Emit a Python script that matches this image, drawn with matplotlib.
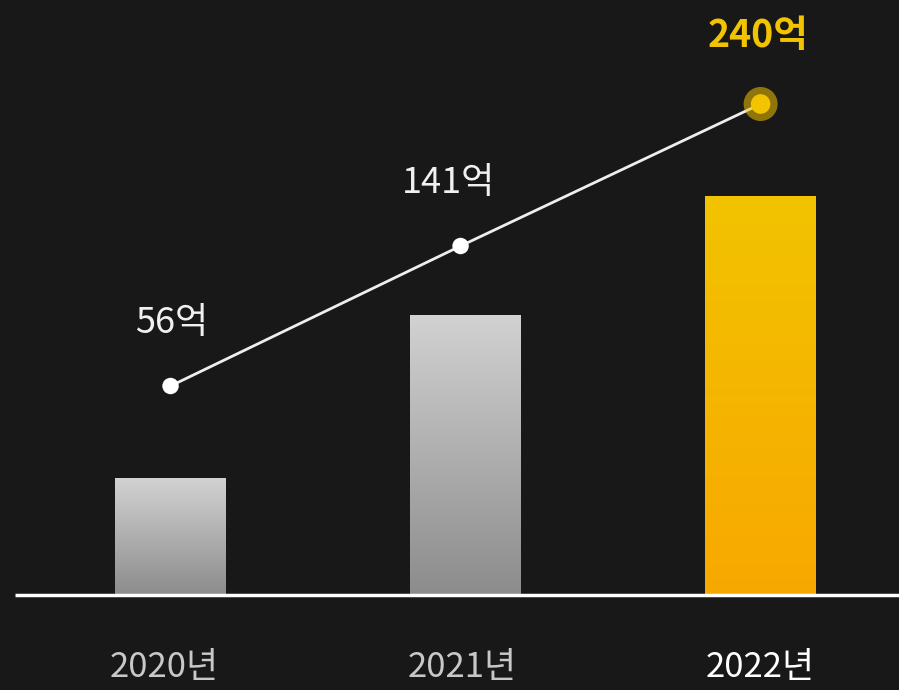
import numpy as np
import matplotlib
matplotlib.use('Agg')
import matplotlib.pyplot as plt
from matplotlib.colors import LinearSegmentedColormap

plt.rcParams['font.family'] = ['Noto Sans CJK KR', 'DejaVu Sans']

# 데이터 (높이는 기준선 위 픽셀 단위로 읽은 값)
years = ['2020년', '2021년', '2022년']
bar_heights = [117, 280, 399]
line_heights = [209, 349, 491]
line_x = [0.0, 0.983, 2.0]
value_labels = ['56억', '141억', '240억']

bg = '#181818'
fig = plt.figure(figsize=(8.99, 6.90), dpi=100, facecolor=bg)
ax = fig.add_axes([0, 0, 1, 1])
ax.set_facecolor(bg)
ax.set_xlim(-0.578, 2.469)
ax.set_ylim(-95, 595)
ax.axis('off')

x = np.arange(len(years))
width = 0.376
gray_cmap = LinearSegmentedColormap.from_list('g', ['#8c8c8c', '#d2d2d2'])
gold_cmap = LinearSegmentedColormap.from_list('y', ['#f8a800', '#f2c300'])

bars = ax.bar(x, bar_heights, width=width, color='none', zorder=2)
grad = np.linspace(0, 1, 256).reshape(-1, 1)
for i, b in enumerate(bars):
    cmap = gold_cmap if i == 2 else gray_cmap
    x0, y0 = b.get_x(), b.get_y()
    im = ax.imshow(grad, cmap=cmap, origin='lower', aspect='auto',
                   extent=[x0, x0 + b.get_width(), y0, y0 + b.get_height()], zorder=2)
    im.set_clip_path(b)

# 기준선
ax.plot([-0.527, 2.469], [0, 0], color='white', lw=2.5, zorder=3, solid_capstyle='butt')

# 선 그래프
ax.plot(line_x, line_heights, color='#eeeeee', lw=2, zorder=4)
ax.scatter(line_x[:2], line_heights[:2], s=140, color='white', zorder=5, edgecolors='none')
ax.scatter(line_x[2:], line_heights[2:], s=600, color='#f2c300', alpha=0.55, zorder=5, edgecolors='none')
ax.scatter(line_x[2:], line_heights[2:], s=200, color='#f2c300', zorder=6, edgecolors='none')

# 값 레이블
label_dx = [0.005, -0.04, -0.01]
label_dy = [63, 63, 68]
for i, lab in enumerate(value_labels):
    last = i == 2
    ax.text(line_x[i] + label_dx[i], line_heights[i] + label_dy[i], lab, ha='center', va='center',
            fontsize=27 if last else 26, color='#f2c300' if last else '#f0f0f0',
            fontweight='bold' if last else 'normal', zorder=7)

# 연도 레이블
for i, yr in enumerate(years):
    ax.text(x[i] - 0.02 + 0.01 * i, -72, yr, ha='center', va='center', fontsize=25,
            color='white' if i == 2 else '#c8c8c8',
            fontweight='medium' if i == 2 else 'normal')

plt.savefig('out.png', dpi=100, facecolor=bg)
plt.close()
